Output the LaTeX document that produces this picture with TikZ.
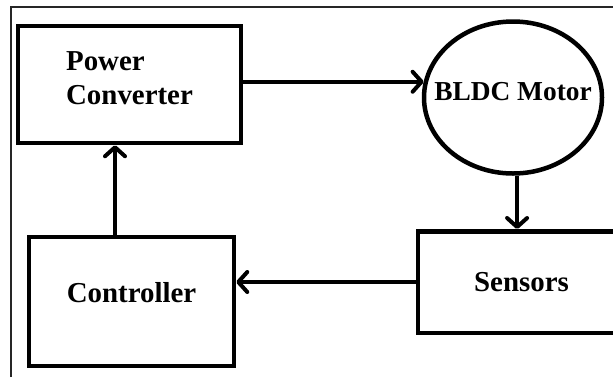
\documentclass[tikz,border=0pt]{standalone}
\usepackage{fontspec}
\setmainfont{Liberation Serif}
\usetikzlibrary{shapes.geometric, arrows.meta}
\tikzstyle{block} = [rectangle, draw = black, line width = 4.5bp, text centered, font = \bfseries\fontsize{29}{35}\selectfont]
\tikzstyle{motor} = [ellipse, draw = black, line width = 4.5bp, inner ysep = 0pt, inner xsep = -16bp, minimum width = 178bp, minimum height = 152bp, text centered, font = \bfseries\fontsize{27.5}{33}\selectfont]
\tikzstyle{arrow} = [line width = 4bp, -{Straight Barb[length = 9bp, width = 20bp, round]}]

\begin{document}
\begin{tikzpicture}[x = 1bp, y = -1bp]
    \clip (0,0) rectangle (613,377);
    \draw[line width = 1.2bp, black!85] (11,377) -- (11,7) -- (613,7);

    \node(pc)[block, minimum width = 223bp, minimum height = 117bp, align = left, text depth = 13bp] at (129.5,84.5) {Power\\Converter};
    \node(bldc)[motor, text depth = 13bp] at (513,97.5) {BLDC Motor};
    \node(sens)[block, minimum width = 207bp, minimum height = 101.5bp] at (521.5,282) {Sensors};
    \node(ctrl)[block, minimum width = 205bp, minimum height = 129bp, text depth = 19bp] at (131.5,301.5) {Controller};

    \draw[arrow](bldc.170 -| pc.east) -- (bldc.170);
    \draw[arrow](bldc.-87) -- (bldc.-87 |- sens.north);
    \draw[arrow](sens.west) -- (sens.west -| ctrl.east);
    \draw[arrow]([xshift = -16.5bp]ctrl.north) -- ([xshift = -16.5bp]ctrl.north |- pc.south);
\end{tikzpicture}
\end{document}
